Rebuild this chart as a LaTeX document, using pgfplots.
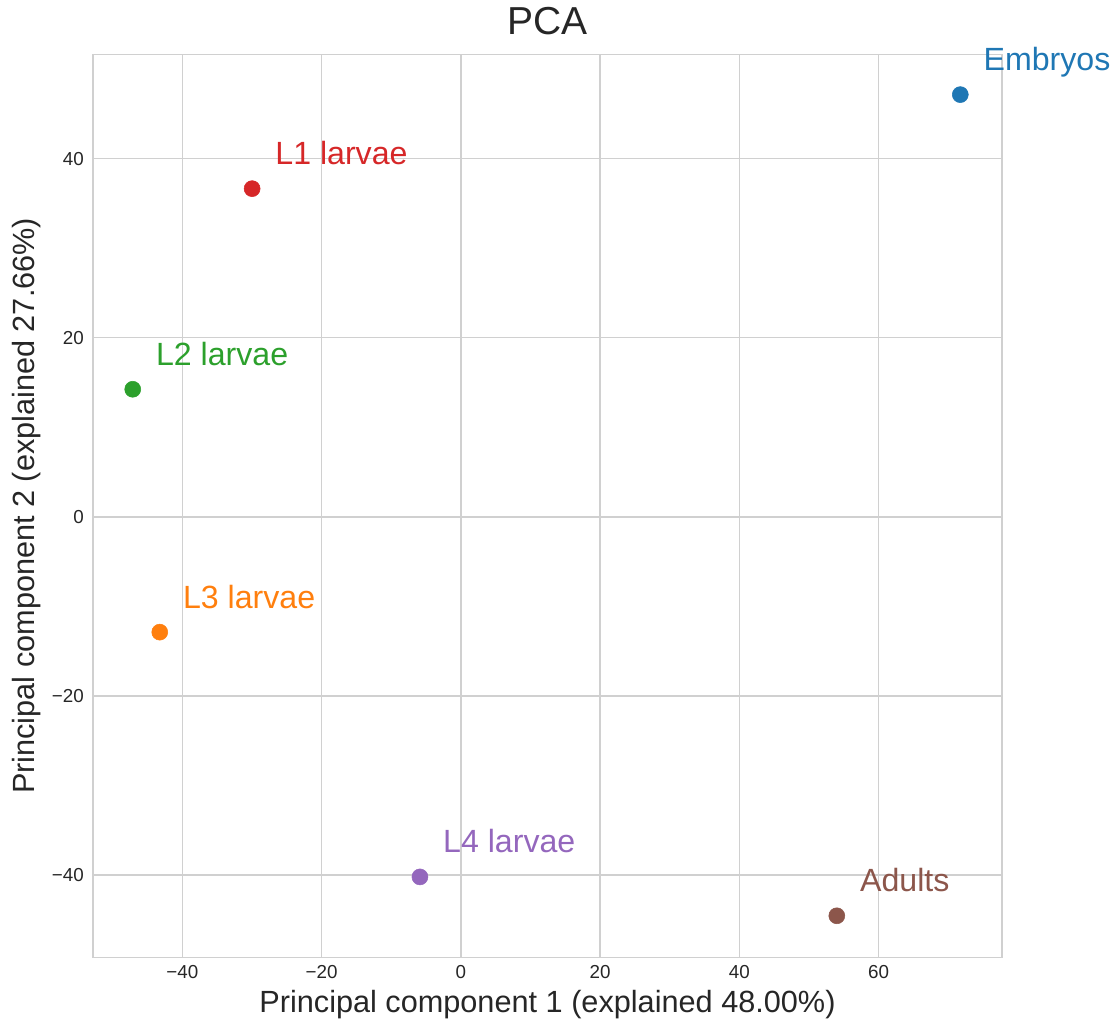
\documentclass[border=0pt]{standalone}
\usepackage{fontspec}
\setmainfont{Liberation Sans}
\usepackage{pgfplots}
\pgfplotsset{compat=1.18}

\definecolor{tabblue}{HTML}{1F77B4}
\definecolor{tabred}{HTML}{D62728}
\definecolor{tabgreen}{HTML}{2CA02C}
\definecolor{taborange}{HTML}{FF7F0E}
\definecolor{tabpurple}{HTML}{9467BD}
\definecolor{tabbrown}{HTML}{8C564B}
\definecolor{gridgray}{HTML}{D0D0D0}
\definecolor{textgray}{HTML}{262626}

% one labelled sample point per developmental stage
\pgfplotsset{
  stage/.style={
    only marks, mark=*, mark size=6pt, color=#1,
    nodes near coords, point meta=explicit symbolic,
    every node near coord/.append style={
      anchor=base west, inner sep=0pt, xshift=17.25pt, yshift=18pt,
      font=\fontsize{24.1}{28}\selectfont, text=#1},
  },
}

\begin{document}
\begin{tikzpicture}
\begin{axis}[
  name=ax,
  scale only axis, width=681.75pt, height=677.25pt,
  xmin=-52.85, xmax=77.74, ymin=-49.19, ymax=51.64,
  clip=false,
  axis line style={draw=gridgray, line width=1.1pt},
  grid=major, major grid style={draw=gridgray, line width=1.1pt},
  major tick length=0pt, tick style={draw=none},
  xtick={-40,-20,0,20,40,60}, xticklabels={−40,−20,0,20,40,60},
  ytick={-40,-20,0,20,40}, yticklabels={−40,−20,0,20,40},
  ticklabel style={font=\fontsize{14.1}{16}\selectfont, text=textgray, inner sep=0pt},
  xticklabel style={anchor=north, yshift=-6pt},
  yticklabel style={anchor=east, xshift=-6.75pt},
  xlabel={Principal component 1 (explained 48.00\%)},
  ylabel={Principal component 2 (explained 27.66\%)},
  label style={font=\fontsize{23}{27}\selectfont, text=textgray, inner sep=0pt},
  xlabel style={at={([yshift=-41.25pt]axis description cs:0.5,0)}, anchor=base},
  ylabel style={at={([xshift=-43.5pt]axis description cs:0,0.5)}, anchor=base},
  title={PCA},
  title style={at={([yshift=9.2pt]axis description cs:0.5,1)}, anchor=base,
    font=\fontsize{29.25}{34}\selectfont, text=textgray, inner sep=0pt},
]
\addplot[stage=tabblue]   coordinates {(71.75,47.14) [Embryos]};
\addplot[stage=tabred]    coordinates {(-29.99,36.64) [L1 larvae]};
\addplot[stage=tabgreen]  coordinates {(-47.14,14.24) [L2 larvae]};
\addplot[stage=taborange] coordinates {(-43.26,-12.88) [L3 larvae]};
\addplot[stage=tabpurple] coordinates {(-5.88,-40.21) [L4 larvae]};
\addplot[stage=tabbrown]  coordinates {(54.01,-44.55) [Adults]};
\end{axis}
\pgfresetboundingbox
\path[use as bounding box] ([xshift=-69.75pt,yshift=-47pt]ax.south west) rectangle ++(838.5pt,765pt);
\end{tikzpicture}
\end{document}
